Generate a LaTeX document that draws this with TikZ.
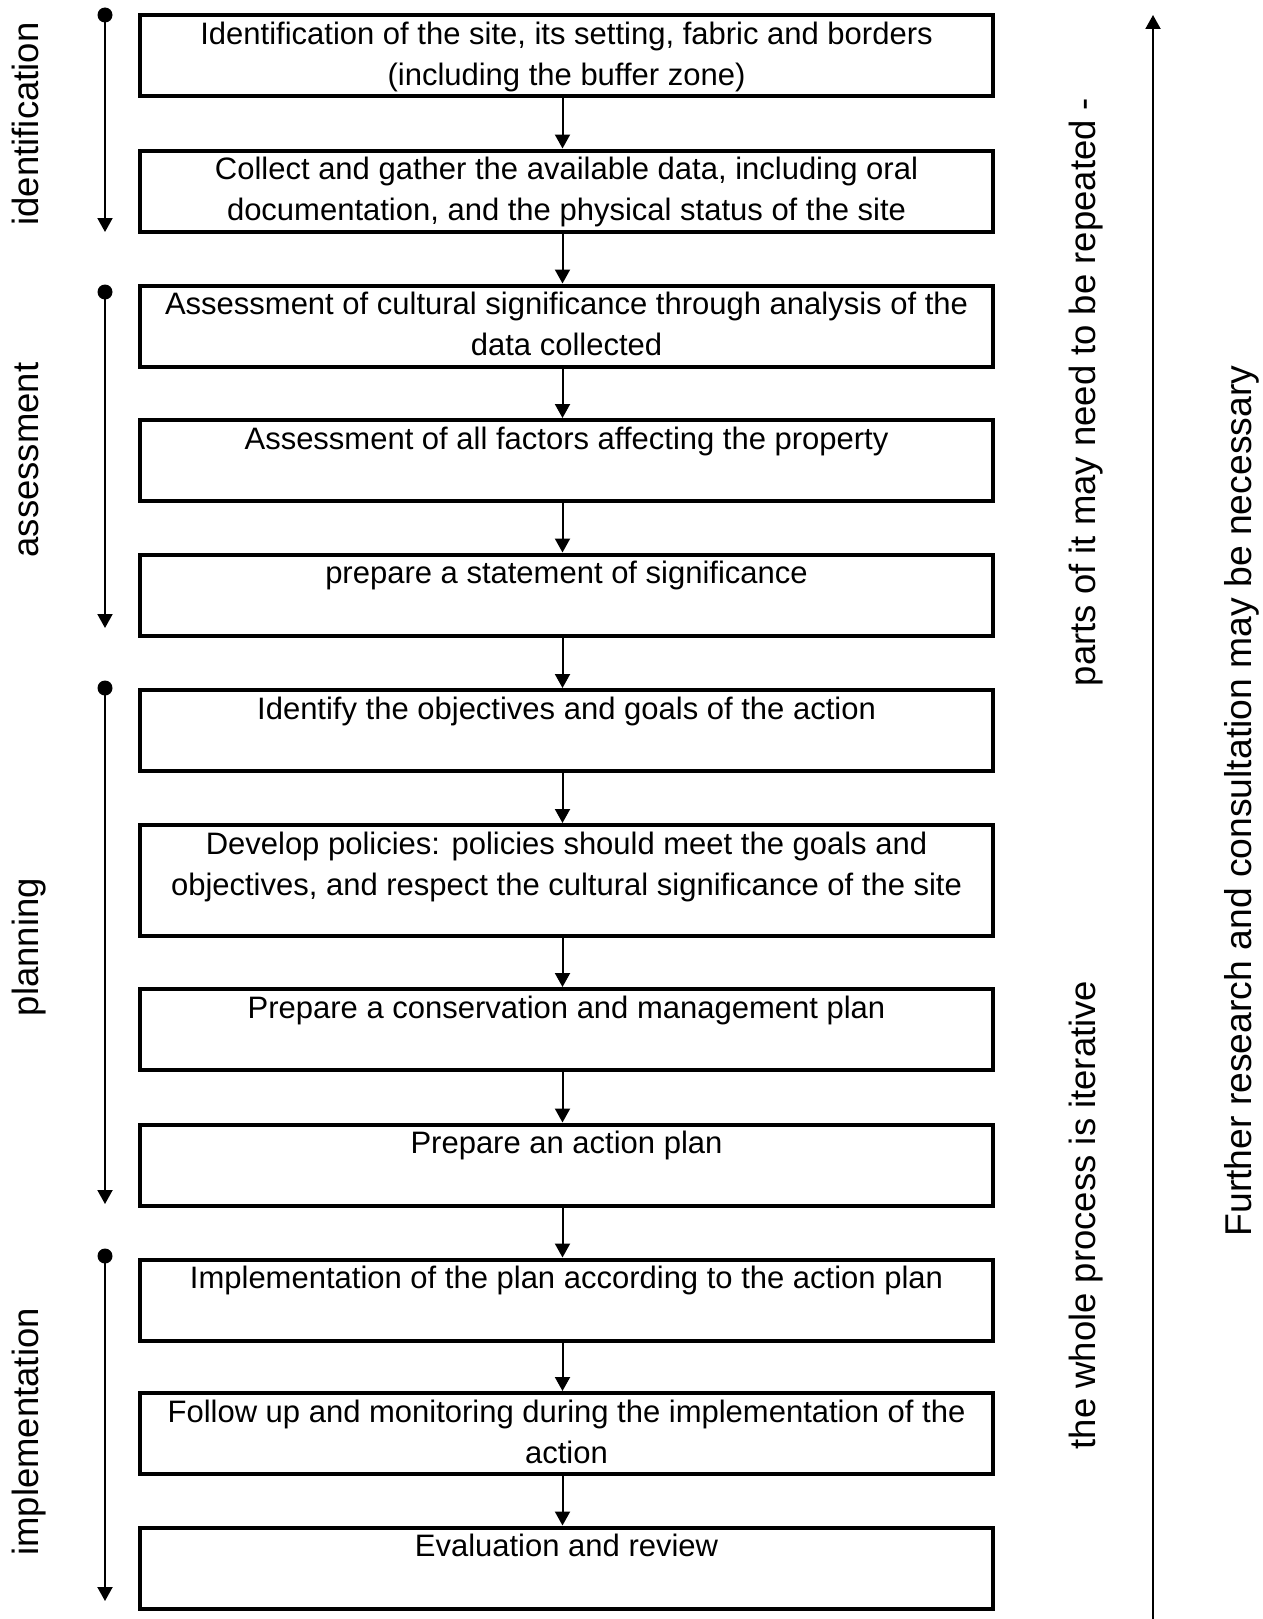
\documentclass[tikz,border=0pt]{standalone}
\usepackage{fontspec}
\setmainfont{Liberation Sans}
\usetikzlibrary{arrows.meta}

\tikzset{
    stage/.style={draw, line width=4pt, minimum width=853pt, minimum height=81pt,
        inner sep=0pt, label={[stagetext]north:{#1}}},
    stagetext/.style={anchor=north, align=center, inner sep=0pt, yshift=-8.5pt,
        font=\fontsize{31}{41}\selectfont},
    flow/.style={-{Triangle[length=14pt,width=15pt]}, line width=2pt},
    side/.style={rotate=90, anchor=base, font=\fontsize{36.5}{44}\selectfont},
}

\begin{document}
\begin{tikzpicture}[x=1pt, y=-1pt]
    \useasboundingbox (0,0) rectangle (1263,1619);

    % Steps
    \node[stage={Identification of the site, its setting, fabric and borders\\(including the buffer zone)}] (s1) at (566.5,55.5) {};
    \node[stage={Collect and gather the available data, including oral\\documentation, and the physical status of the site}] (s2) at (566.5,191) {};
    \node[stage={Assessment of cultural significance through analysis of the\\data collected}] (s3) at (566.5,326) {};
    \node[stage={Assessment of all factors affecting the property}] (s4) at (566.5,460.5) {};
    \node[stage={prepare a statement of significance}] (s5) at (566.5,595) {};
    \node[stage={Identify the objectives and goals of the action}] (s6) at (566.5,730.5) {};
    \node[stage={Develop policies: policies should meet the goals and\\objectives, and respect the cultural significance of the site}, minimum height=111pt] (s7) at (566.5,880.5) {};
    \node[stage={Prepare a conservation and management plan}] (s8) at (566.5,1029.5) {};
    \node[stage={Prepare an action plan}] (s9) at (566.5,1165) {};
    \node[stage={Implementation of the plan according to the action plan}] (s10) at (566.5,1300) {};
    \node[stage={Follow up and monitoring during the implementation of the\\action}] (s11) at (566.5,1433.5) {};
    \node[stage={Evaluation and review}] (s12) at (566.5,1568) {};

    % Arrows between steps
    \foreach \i [count=\j from 2] in {1,...,11}
        \draw[flow] ([xshift=-4pt]s\i.south) -- ([xshift=-4pt]s\j.north);

    % Phases on the left
    \coordinate (p1) at (105,15);
    \coordinate (q1) at (105,232);
    \coordinate (p2) at (105,292);
    \coordinate (q2) at (105,628);
    \coordinate (p3) at (105,688);
    \coordinate (q3) at (105,1204);
    \coordinate (p4) at (105,1256);
    \coordinate (q4) at (105,1601);
    \foreach \i in {1,...,4} {
        \fill (p\i) circle (7.5pt);
        \draw[flow] (p\i) -- (q\i);
    }
    \node[side] (identification) at (38,124) {identification};
    \node[side] (assessment) at (38,460) {assessment};
    \node[side] (planning) at (38,947) {planning};
    \node[side] (implementation) at (38,1432) {implementation};

    % Iteration on the right
    \coordinate (rbot) at (1153,1619);
    \coordinate (rtop) at (1153,15);
    \draw[flow] (rbot) -- (rtop);
    \node[side] (repeat) at (1095,392) {parts of it may need to be repeated -};
    \node[side] (iterative) at (1095,1215) {the whole process is iterative};
    \node[side, font=\fontsize{37.3}{45}\selectfont] (further) at (1251,801) {Further research and consultation may be necessary};
\end{tikzpicture}
\end{document}
